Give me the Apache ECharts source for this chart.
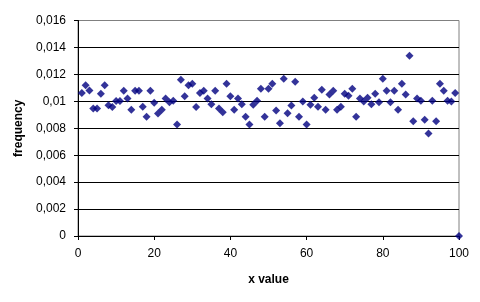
<!DOCTYPE html>
<html><head><meta charset="utf-8">
<script src="https://cdn.jsdelivr.net/npm/echarts@6/dist/echarts.min.js"></script>
<style>html,body{margin:0;padding:0;background:#fff}#c{width:480px;height:302px}</style>
</head><body><div id="c"></div>
<script>
const xValues = [];
for (let i = 1; i <= 100; i++) xValues.push(i);
const frequency = [
0.01061,0.01119,0.01081,0.00946,0.00946,0.01057,0.01119,0.00970,0.00958,0.01002,
0.01002,0.01079,0.01020,0.00938,0.01079,0.01079,0.00960,0.00886,0.01079,0.00990,
0.00909,0.00938,0.01020,0.00993,0.01005,0.00827,0.01161,0.01037,0.01119,0.01131,
0.00958,0.01061,0.01079,0.01020,0.00978,0.01079,0.00946,0.00919,0.01131,0.01037,
0.00938,0.01020,0.00978,0.00886,0.00827,0.00975,0.01005,0.01094,0.00886,0.01094,
0.01131,0.00931,0.00837,0.01168,0.00911,0.00968,0.01146,0.00886,0.00998,0.00827,
0.00975,0.01027,0.00960,0.01086,0.00938,0.01050,0.01079,0.00938,0.00960,0.01057,
0.01042,0.01094,0.00886,0.01020,0.00998,0.01027,0.00978,0.01057,0.00993,0.01168,
0.01079,0.00993,0.01079,0.00938,0.01131,0.01050,0.01339,0.00852,0.01020,0.01005,
0.00864,0.00761,0.01005,0.00852,0.01131,0.01079,0.01005,0.00998,0.01061,0
];
const xTitle = 'x value';
const yTitle = 'frequency';
const fmt = v => String(+v.toFixed(4)).replace('.', ',');
const chart = echarts.init(document.getElementById('c'));
const font = 'Liberation Sans, Arial, sans-serif';
chart.setOption({
  animation: false,
  backgroundColor: '#fff',
  grid: {left: 78, right: 21, top: 20.5, bottom: 66, show: true, borderColor: '#808080', borderWidth: 1},
  xAxis: {
    type: 'value', min: 0, max: 100, interval: 20,
    name: xTitle, nameLocation: 'middle', nameGap: 38,
    nameTextStyle: {fontFamily: font, fontSize: 12, fontWeight: 'bold', color: '#000'},
    axisLine: {lineStyle: {color: '#000'}},
    axisTick: {show: true, length: 4, lineStyle: {color: '#000'}},
    axisLabel: {fontFamily: font, fontSize: 12, color: '#000', margin: 12},
    splitLine: {show: false}
  },
  yAxis: {
    type: 'value', min: 0, max: 0.016, interval: 0.002,
    name: yTitle, nameLocation: 'middle', nameGap: 47,
    nameTextStyle: {fontFamily: font, fontSize: 12, fontWeight: 'bold', color: '#000'},
    axisLine: {show: true, lineStyle: {color: '#000'}},
    axisTick: {show: true, length: 4, lineStyle: {color: '#000'}},
    axisLabel: {fontFamily: font, fontSize: 12, color: '#000', margin: 12, formatter: fmt},
    splitLine: {show: true, lineStyle: {color: ['#000','#000','#000','#000','#000','#000','#000','#000','#808080'], width: 1}}
  },
  series: [{
    type: 'scatter',
    data: xValues.map((x, i) => [x, frequency[i]]),
    symbol: 'diamond', symbolSize: 8,
    itemStyle: {color: '#000080'},
    clip: false
  }]
});
</script></body></html>
